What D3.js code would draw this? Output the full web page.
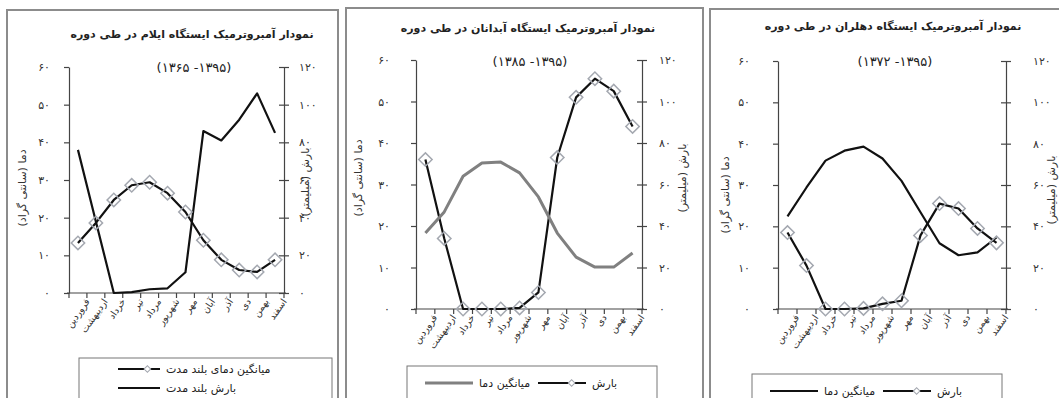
<!DOCTYPE html>
<html>
<head>
<meta charset="utf-8">
<script src="https://cdn.jsdelivr.net/npm/d3@7"></script>
<style>
  body { margin: 0; background: #fff; }
  svg { display: block; font-family: "DejaVu Sans", sans-serif; }
</style>
</head>
<body>
<script>
// months (Persian calendar)
var months = ["فروردین", "اردیبهشت", "خرداد", "تیر", "مرداد", "شهریور",
              "مهر", "آبان", "آذر", "دی", "بهمن", "اسفند"];

// axis ticks
var tempTicks = [0, 10, 20, 30, 40, 50, 60];
var rainTicks = [0, 20, 40, 60, 80, 100, 120];

// Ilam
var ilamTemp = [13.3, 18.6, 24.7, 28.6, 29.4, 26.5, 21.5, 14, 8.8, 6.1, 5.6, 8.8];
var ilamRain = [76, 38, 0, 0.5, 2, 2.5, 11, 86, 81, 92, 106, 85];

// Abdanan
var abdTemp = [18.3, 23.4, 32, 35.2, 35.4, 32.8, 27, 18.3, 12.5, 10.1, 10.1, 13.5];
var abdRain = [72, 34, 0, 0, 0, 0.5, 8, 73, 102, 111, 105, 88];

// Dehloran
var dehTemp = [22.4, 29.4, 35.9, 38.3, 39.3, 36.4, 31, 23.4, 15.9, 13, 13.7, 17.3];
var dehRain = [37, 21, 0, 0, 0.3, 2.5, 4, 35.6, 51, 48.6, 39, 32];

var fa = function(v) { return String(v).replace(/\d/g, function(d) { return "۰۱۲۳۴۵۶۷۸۹"[d]; }); };

var W = 1059, H = 398;
var svg = d3.select("body").append("svg").attr("width", W).attr("height", H);

var panels = [
  {frame: [7, 338, 10], left: 69, right: 284, top: 67, bottom: 293, lpad: 14, rpad: 10,
   title: "نمودار آمبروترمیک ایستگاه ایلام در طی دوره", tX: 192, tY: 38, sub: "(۱۳۶۵ -۱۳۹۵)", sY: 67,
   temp: ilamTemp, rain: ilamRain, tempColor: "#111", tempMark: true, rainMark: false,
   yLabX: 26, yLabY: 188, rLabX: 309, rLabY: 182,
   legend: {x: 79, y: 358, w: 253, h: 50, rows: true}},
  {frame: [346, 703, 8], left: 416, right: 642, top: 60, bottom: 309, lpad: 21, rpad: 12,
   title: "نمودار آمبروترمیک ایستگاه آبدانان در طی دوره", tX: 528, tY: 32, sub: "(۱۳۸۵ -۱۳۹۵)", sY: 61,
   temp: abdTemp, rain: abdRain, tempColor: "#808080", tempMark: false, rainMark: true,
   yLabX: 362, yLabY: 178, rLabX: 686, rLabY: 178,
   legend: {x: 407, y: 366, w: 250, h: 40, rows: false}},
  {frame: [710, 1062, 9], left: 778, right: 1006, top: 61, bottom: 309, lpad: 23, rpad: 22,
   title: "نمودار آمبروترمیک ایستگاه دهلران در طی دوره", tX: 893, tY: 30, sub: "(۱۳۷۲ -۱۳۹۵)", sY: 61,
   temp: dehTemp, rain: dehRain, tempColor: "#111", tempMark: false, rainMark: true,
   yLabX: 729, yLabY: 195, rLabX: 1055, rLabY: 190,
   legend: {x: 752, y: 374, w: 250, h: 40, rows: false}}
];

var diamond = d3.symbol().type(d3.symbolSquare).size(90);

function drawDiamonds(g, data, x, y) {
  g.selectAll("path.mk").data(data).enter().append("path")
    .attr("class", "mk")
    .attr("d", diamond)
    .attr("transform", function(d, i) { return "translate(" + (x(months[i]) + x.bandwidth() / 2) + "," + y(d) + ") rotate(45)"; })
    .attr("fill", "none")
    .attr("stroke", "#a4a8b0")
    .attr("stroke-width", 1.5);
}

panels.forEach(function(p) {
  var g = svg.append("g");

  // frame
  g.append("path")
    .attr("d", "M" + p.frame[0] + "," + (H + 5) + "V" + p.frame[2] + "H" + p.frame[1] + "V" + (H + 5))
    .attr("fill", "none").attr("stroke", "#8c8c8c").attr("stroke-width", 2);

  var x = d3.scaleBand().domain(months).range([p.left, p.right]);
  var yT = d3.scaleLinear().domain([0, 60]).range([p.bottom, p.top]);
  var yR = d3.scaleLinear().domain([0, 120]).range([p.bottom, p.top]);
  var cx = function(d, i) { return x(months[i]) + x.bandwidth() / 2; };

  // titles
  g.append("text").attr("x", p.tX).attr("y", p.tY)
    .attr("text-anchor", "middle").attr("font-size", 11).attr("font-weight", "bold")
    .attr("fill", "#222").text(p.title);
  g.append("text").attr("x", p.tX + 2).attr("y", p.sY + 5)
    .attr("text-anchor", "middle").attr("font-size", 13).attr("letter-spacing", 1)
    .attr("fill", "#222").text(p.sub);

  // left axis
  var la = g.append("g").attr("transform", "translate(" + p.left + ",0)")
    .call(d3.axisLeft(yT).tickValues(tempTicks).tickFormat(fa).tickSizeInner(5).tickSizeOuter(0).tickPadding(p.lpad));
  // right axis
  var ra = g.append("g").attr("transform", "translate(" + p.right + ",0)")
    .call(d3.axisRight(yR).tickValues(rainTicks).tickFormat(fa).tickSizeInner(5).tickSizeOuter(0).tickPadding(p.rpad));
  ra.selectAll(".tick line").attr("x1", -5);
  [la, ra].forEach(function(a) {
    a.select(".domain").attr("stroke", "#444").attr("stroke-width", 1.2);
    a.selectAll(".tick line").attr("stroke", "#444").attr("stroke-width", 1.2);
    a.selectAll("text").attr("font-size", 11).attr("fill", "#333").attr("font-family", "DejaVu Sans");
  });

  // x axis
  var xa = g.append("g").attr("transform", "translate(0," + p.bottom + ")")
    .call(d3.axisBottom(x).tickSize(0).tickPadding(8));
  xa.select(".domain").attr("d", "M" + (p.left - 2) + ",0H" + (p.right + 2)).attr("stroke", "#444").attr("stroke-width", 1.2);
  xa.selectAll("text")
    .attr("font-size", 9.5).attr("fill", "#333").attr("font-family", "DejaVu Sans")
    .attr("text-anchor", "end").attr("dy", "0.3em").attr("x", 0).attr("y", 12)
    .attr("transform", "rotate(-55)");
  var bounds = months.map(function(m) { return x(m); }).concat([p.right]);
  xa.selectAll("line.bt").data(bounds).enter().append("line")
    .attr("class", "bt")
    .attr("x1", function(d) { return d; }).attr("x2", function(d) { return d; })
    .attr("y1", 0).attr("y2", 5)
    .attr("stroke", "#444").attr("stroke-width", 1.2);

  // axis titles
  g.append("text").attr("transform", "translate(" + p.yLabX + "," + p.yLabY + ") rotate(-90)")
    .attr("text-anchor", "middle").attr("font-size", 11).attr("fill", "#333").text("دما (سانتی گراد)");
  g.append("text").attr("transform", "translate(" + p.rLabX + "," + p.rLabY + ") rotate(-90)")
    .attr("text-anchor", "middle").attr("font-size", 11).attr("fill", "#333").text("بارش (میلیمتر)");

  // lines
  var tLine = d3.line().x(cx).y(function(d) { return yT(d); });
  var rLine = d3.line().x(cx).y(function(d) { return yR(d); });

  g.append("path").datum(p.rain).attr("d", rLine)
    .attr("fill", "none").attr("stroke", "#111").attr("stroke-width", 2.2).attr("stroke-linejoin", "round");
  g.append("path").datum(p.temp).attr("d", tLine)
    .attr("fill", "none").attr("stroke", p.tempColor).attr("stroke-width", p.tempColor === "#111" ? 2.2 : 3)
    .attr("stroke-linejoin", "round");

  if (p.tempMark) drawDiamonds(g.append("g"), p.temp, x, yT);
  if (p.rainMark) drawDiamonds(g.append("g"), p.rain, x, yR);

  // legend
  var L = p.legend;
  var lg = g.append("g");
  lg.append("rect").attr("x", L.x).attr("y", L.y).attr("width", L.w).attr("height", L.h)
    .attr("fill", "#fff").attr("stroke", "#777").attr("stroke-width", 1);
  var items;
  if (L.rows) {
    items = [
      {x: L.x + 39, y: L.y + 11, len: 42, color: "#111", w: 2.2, mark: true, text: "میانگین دمای بلند مدت"},
      {x: L.x + 39, y: L.y + 30, len: 42, color: "#111", w: 2.2, mark: false, text: "بارش بلند مدت"}
    ];
  } else {
    items = [
      {x: L.x + 18, y: L.y + 17, len: 48, color: p.tempColor, w: p.tempColor === "#111" ? 2.2 : 3, mark: false, text: "میانگین دما"},
      {x: L.x + 131, y: L.y + 17, len: 48, color: "#111", w: 2.2, mark: true, text: "بارش"}
    ];
  }
  items.forEach(function(it) {
    lg.append("line").attr("x1", it.x).attr("x2", it.x + it.len).attr("y1", it.y).attr("y2", it.y)
      .attr("stroke", it.color).attr("stroke-width", it.w);
    if (it.mark) {
      lg.append("path").attr("d", d3.symbol().type(d3.symbolSquare).size(22))
        .attr("transform", "translate(" + (it.x + it.len * 0.7) + "," + it.y + ") rotate(45)")
        .attr("fill", "#fff").attr("stroke", "#a4a8b0").attr("stroke-width", 1);
    }
    lg.append("text").attr("x", it.x + it.len + 6).attr("y", it.y + 4)
      .attr("font-size", 11).attr("fill", "#222").text(it.text);
  });
});
</script>
</body>
</html>
